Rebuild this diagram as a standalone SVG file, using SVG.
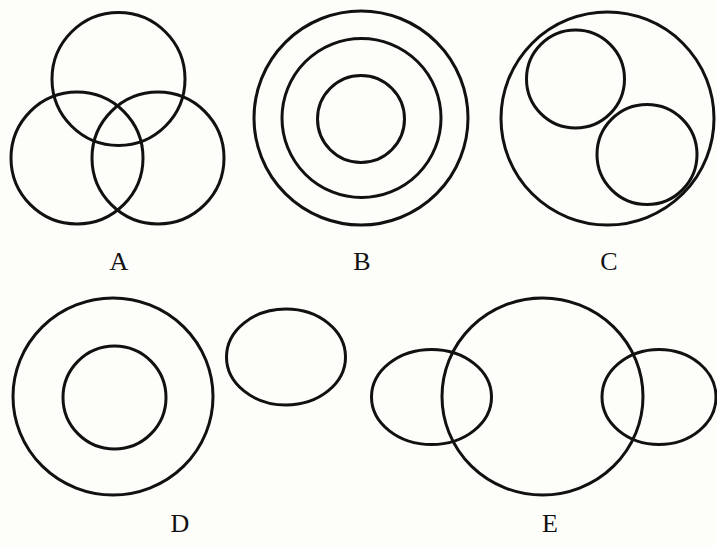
<svg xmlns="http://www.w3.org/2000/svg" width="717" height="546" viewBox="0 0 717 546">
<style>
.s{fill:none;stroke:#111;stroke-width:3}
.t{font-family:"Liberation Serif","Times New Roman",serif;font-size:26px;fill:#111;text-anchor:middle}
</style>
<rect width="717" height="546" fill="#fdfdfa"/>
<g id="A">
<circle class="s" cx="118.5" cy="79" r="66.5"/>
<circle class="s" cx="77" cy="158" r="66"/>
<circle class="s" cx="158" cy="158" r="66"/>
<text class="t" x="119" y="270">A</text>
</g>
<g id="B">
<circle class="s" cx="361" cy="118" r="107"/>
<circle class="s" cx="361.5" cy="118" r="79.5"/>
<circle class="s" cx="361" cy="119" r="43.5"/>
<text class="t" x="362" y="270">B</text>
</g>
<g id="C">
<circle class="s" cx="607.5" cy="118.5" r="106.5"/>
<circle class="s" cx="575.5" cy="79" r="49"/>
<circle class="s" cx="647" cy="154.5" r="50"/>
<text class="t" x="609" y="270">C</text>
</g>
<g id="D">
<ellipse class="s" cx="113" cy="396.5" rx="100" ry="98.5"/>
<circle class="s" cx="114.5" cy="397.5" r="51.5"/>
<ellipse class="s" cx="286" cy="357" rx="59.5" ry="48"/>
<text class="t" x="180" y="532">D</text>
</g>
<g id="E">
<ellipse class="s" cx="542.5" cy="396.5" rx="100.5" ry="98.5"/>
<ellipse class="s" cx="431.5" cy="397" rx="60" ry="47.5"/>
<ellipse class="s" cx="659" cy="397" rx="57" ry="47.5"/>
<text class="t" x="550" y="532">E</text>
</g>
<g id="connectors"/>
</svg>
